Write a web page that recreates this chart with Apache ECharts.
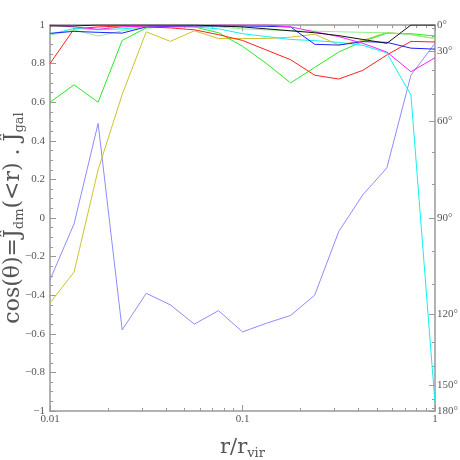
<!DOCTYPE html>
<html>
<head>
<meta charset="utf-8">
<script src="https://cdn.jsdelivr.net/npm/echarts@6/dist/echarts.min.js"></script>
<style>
  html, body { margin: 0; padding: 0; background: #fff; }
  #chart { width: 460px; height: 460px; }
</style>
</head>
<body>
<div id="chart"></div>
<script>
// r / r_vir sample points (log spaced)
var radii = [0.01, 0.01334, 0.01778, 0.02371, 0.03162, 0.04217, 0.05623, 0.07499, 0.1,
             0.1334, 0.1778, 0.2371, 0.3162, 0.4217, 0.5623, 0.7499, 1];

// cos(theta) per halo
var blackLine   = [0.995, 0.995, 1.0, 1.0, 1.0, 1.0, 1.0, 0.995, 0.99, 0.98, 0.97, 0.96, 0.945, 0.925, 0.905, 1.0, 1.0];
var redLine     = [0.80, 0.98, 0.99, 0.995, 0.99, 0.985, 0.975, 0.95, 0.92, 0.87, 0.82, 0.74, 0.72, 0.765, 0.845, 0.915, 0.912];
var greenLine   = [0.60, 0.69, 0.60, 0.92, 0.985, 0.99, 0.99, 0.96, 0.89, 0.80, 0.70, 0.78, 0.86, 0.915, 0.957, 0.955, 0.943];
var yellowLine  = [-0.44, -0.28, 0.25, 0.64, 0.965, 0.915, 0.97, 0.93, 0.93, 0.93, 0.937, 0.952, 0.897, 0.92, 0.962, 0.95, 0.93];
var violetLine  = [-0.32, -0.03, 0.49, -0.58, -0.39, -0.45, -0.55, -0.48, -0.59, -0.545, -0.505, -0.40, -0.07, 0.12, 0.26, 0.74, 0.905];
var blueLine    = [0.957, 0.967, 0.962, 0.958, 0.99, 0.993, 0.995, 0.995, 0.995, 0.993, 0.99, 0.90, 0.896, 0.914, 0.91, 0.88, 0.875];
var magentaLine = [1.0, 0.99, 0.978, 0.99, 0.995, 0.995, 0.995, 1.0, 1.0, 1.0, 0.99, 0.965, 0.94, 0.905, 0.86, 0.758, 0.83];
var cyanLine    = [0.95, 0.983, 0.975, 0.98, 0.99, 0.995, 0.99, 0.98, 0.955, 0.94, 0.925, 0.919, 0.91, 0.895, 0.855, 0.637, -0.96];
var lightGreenLine = [0.948, 0.974, 0.943, 0.97, 0.99, 0.995, 0.995, 0.99, 0.98, 0.975, 0.97, 0.968, 0.965, 0.962, 0.96, 0.95, 0.93];

// tick labels
var xLabels = [0.01, 0.1, 1];
var xMinor = [0.01, 0.02, 0.03, 0.04, 0.05, 0.06, 0.07, 0.08, 0.09,
              0.1, 0.2, 0.3, 0.4, 0.5, 0.6, 0.7, 0.8, 0.9, 1];
var degMajor = [0, 30, 60, 90, 120, 150, 180];
var degMinor = [0, 10, 20, 30, 40, 50, 60, 70, 80, 90, 100, 110, 120, 130, 140, 150, 160, 170, 180];

var lines = [
  {data: violetLine, color: '#8c8cff'},
  {data: yellowLine, color: '#cfc22e'},
  {data: greenLine, color: '#22ee22'},
  {data: redLine, color: '#ff2020'},
  {data: cyanLine, color: '#10f0f0'},
  {data: lightGreenLine, color: '#90f090'},
  {data: blueLine, color: '#2020ff'},
  {data: magentaLine, color: '#ff20ff'},
  {data: blackLine, color: '#111111'}
]

var toCos = function(d){ return Math.cos(d * Math.PI / 180) }
var gray = '#999'
var labelColor = '#555'
var font = 'Liberation Serif'
var titleFont = 'DejaVu Serif'

var option = {
  animation: false,
  grid: { left: 50, right: 25, top: 25, bottom: 49, containLabel: false, outerBoundsMode: 'none' },
  xAxis: [
    {
      type: 'log', min: 0.01, max: 1, position: 'bottom',
      name: '{n|r/r}{s|vir}', nameLocation: 'middle', nameGap: 24, nameMoveOverlap: false,
      nameTextStyle: {
        rich: {
          n: {fontSize: 21, fontFamily: titleFont, color: labelColor, lineHeight: 26},
          s: {fontSize: 13, fontFamily: titleFont, color: labelColor, padding: [12, 0, 0, 0]}
        }
      },
      axisLine: { onZero: false, lineStyle: { color: gray, width: 1.5 } },
      axisTick: { inside: true, length: 3, lineStyle: { color: gray }, customValues: xMinor },
      axisLabel: { customValues: xLabels, color: labelColor, fontSize: 11, fontFamily: font, margin: 3,
        formatter: function(v){ return String(v) } },
      splitLine: { show: false }, minorTick: { show: false }
    },
    {
      type: 'log', min: 0.01, max: 1, position: 'bottom',
      axisLine: { show: false, onZero: false },
      axisTick: { inside: true, length: 6, lineStyle: { color: gray }, customValues: xLabels },
      axisLabel: { show: false }, splitLine: { show: false }
    },
    {
      type: 'log', min: 0.01, max: 1, position: 'top',
      axisLine: { onZero: false, lineStyle: { color: gray, width: 1.5 } },
      axisTick: { inside: true, length: 3, lineStyle: { color: gray }, customValues: xMinor },
      axisLabel: { show: false }, splitLine: { show: false }
    },
    {
      type: 'log', min: 0.01, max: 1, position: 'top',
      axisLine: { show: false, onZero: false },
      axisTick: { inside: true, length: 6, lineStyle: { color: gray }, customValues: xLabels },
      axisLabel: { show: false }, splitLine: { show: false }
    }
  ],
  yAxis: [
    {
      type: 'value', min: -1, max: 1, interval: 0.2, position: 'left',
      name: '{n|cos(θ)=Ĵ}{s|dm}{n|(<r) . Ĵ}{s|gal}', nameLocation: 'middle', nameGap: 24, nameRotate: 90,
      nameMoveOverlap: false,
      nameTextStyle: {
        rich: {
          n: {fontSize: 22, fontFamily: titleFont, color: labelColor, lineHeight: 24},
          s: {fontSize: 13, fontFamily: titleFont, color: labelColor, padding: [12, 0, 0, 0]}
        }
      },
      axisLine: { show: true, onZero: false, lineStyle: { color: gray, width: 1.5 } },
      axisTick: { inside: true, length: 6, lineStyle: { color: gray } },
      minorTick: { show: true, splitNumber: 4, length: 3, lineStyle: { color: gray } },
      axisLabel: { color: labelColor, fontSize: 11, fontFamily: font, margin: 5,
        formatter: function(v){ return String(+v.toFixed(1)).replace('-', '\u2212') } },
      splitLine: { show: false }
    },
    {
      type: 'value', min: -1, max: 1, position: 'right',
      axisLine: { show: true, onZero: false, lineStyle: { color: gray, width: 1.5 } },
      axisTick: { inside: true, length: 6, lineStyle: { color: gray }, customValues: degMajor.map(toCos) },
      axisLabel: { customValues: degMajor.map(toCos), color: labelColor, fontSize: 11, fontFamily: font, margin: 2,
        formatter: function(v){ return Math.round(Math.acos(Math.max(-1, Math.min(1, v))) * 180 / Math.PI) + '°' } },
      splitLine: { show: false }
    },
    {
      type: 'value', min: -1, max: 1, position: 'right',
      axisLine: { show: false, onZero: false },
      axisTick: { inside: true, length: 3, lineStyle: { color: gray }, customValues: degMinor.map(toCos) },
      axisLabel: { show: false }, splitLine: { show: false }
    }
  ],
  series: lines.map(function(l){
    return {
      type: 'line', symbol: 'none', xAxisIndex: 0, yAxisIndex: 0,
      data: radii.map(function(r, i){ return [r, l.data[i]] }),
      lineStyle: { color: l.color, width: 1 },
      itemStyle: { color: l.color }
    }
  })
}

var myChart = echarts.init(document.getElementById('chart'))
myChart.setOption(option)
</script>
</body>
</html>
